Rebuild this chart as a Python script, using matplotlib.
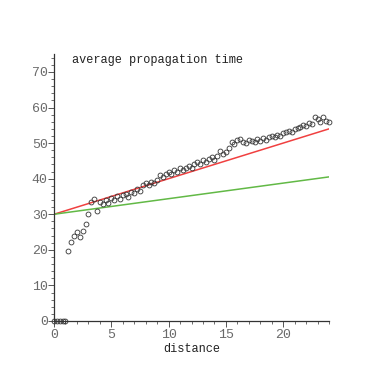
import numpy as np
import matplotlib
matplotlib.use("Agg")
import matplotlib.pyplot as plt
from matplotlib.ticker import MultipleLocator

# measured average propagation time, sampled every 0.25 distance units
prop_time = [
    0, 0, 0, 0, 0,
    19.8, 22.3, 23.8, 24.9, 23.6, 25.2, 27.4, 30.1, 33.4, 34.2,
    31.0, 33.5, 32.8, 34.0, 33.2, 34.6, 33.9, 35.0, 34.4, 35.3,
    35.8, 34.9, 36.2, 36.0, 37.1, 36.6, 38.2, 38.9, 38.3, 39.2,
    38.8, 39.5, 41.0, 40.4, 41.3, 41.8, 41.2, 42.4, 42.0, 42.9,
    42.5, 43.1, 43.6, 43.0, 44.1, 44.6, 44.0, 45.2, 44.7, 45.6,
    46.0, 45.3, 46.5, 47.8, 47.0, 47.4, 48.6, 50.4, 49.7, 50.8,
    51.2, 50.3, 49.9, 51.0, 50.6, 50.2, 51.1, 50.7, 51.4, 51.0,
    51.6, 52.0, 51.7, 52.4, 52.1, 52.8, 53.0, 53.4, 53.1, 53.9,
    54.2, 54.6, 55.0, 54.7, 55.6, 55.3, 57.2, 56.8, 56.0, 57.4,
    56.3, 55.8,
]
distance = 0.25 * np.arange(len(prop_time))

# two reference lines: intercept 30, different slopes
line_x = [0, 24]
red_line = [30, 54]
green_line = [30, 40.5]

fig = plt.figure(figsize=(3.82, 3.78), dpi=100)
ax = fig.add_axes([0.1414, 0.1508, 0.7199, 0.706])

ax.plot(line_x, red_line, color="#f04040", lw=1.1, zorder=2)
ax.plot(line_x, green_line, color="#62b946", lw=1.1, zorder=2)
ax.plot(distance, prop_time, "o", mfc="none", mec="#333333", ms=3.5,
        mew=0.6, clip_on=False, zorder=3)

ax.set_xlim(0, 24)
ax.set_ylim(0, 75)
for s in ["top", "right"]:
    ax.spines[s].set_visible(False)
for s in ["left", "bottom"]:
    ax.spines[s].set_color("#333333")
    ax.spines[s].set_linewidth(0.9)

ax.xaxis.set_major_locator(MultipleLocator(5))
ax.xaxis.set_minor_locator(MultipleLocator(1))
ax.yaxis.set_major_locator(MultipleLocator(10))
ax.yaxis.set_minor_locator(MultipleLocator(2))
ax.tick_params(which="major", length=4, width=0.7, color="#555555",
               labelsize=9.5, labelcolor="#6a6a6a", pad=2)
ax.tick_params(axis="y", which="major", pad=0.5)
ax.tick_params(which="minor", length=2.5, width=0.6, color="#555555")
for lbl in ax.get_xticklabels() + ax.get_yticklabels():
    lbl.set_family("Liberation Mono")

ax.set_xlabel("distance", family="Liberation Mono", fontsize=8.6,
              color="#222222", labelpad=1)
ax.text(0.065, 1.0, "average propagation time", transform=ax.transAxes,
        family="Liberation Mono", fontsize=8.6, color="#222222",
        va="top", ha="left")

fig.savefig("out.png", dpi=100)
